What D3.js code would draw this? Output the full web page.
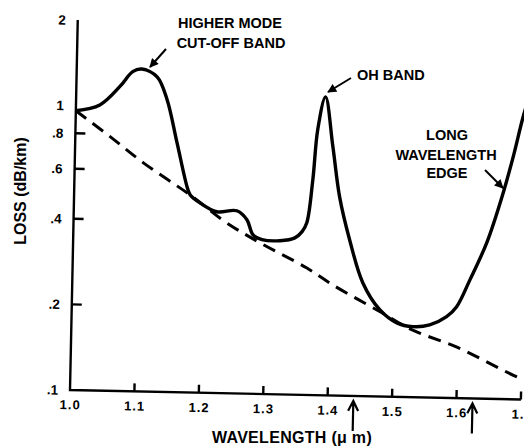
<!DOCTYPE html>
<html>
<head>
<meta charset="utf-8">
<script src="https://d3js.org/d3.v7.min.js"></script>
<style>
  html, body { margin: 0; padding: 0; background: #fff; }
  svg { display: block; }
  text { font-family: "Liberation Sans", Arial, sans-serif; font-weight: bold; fill: #000; }
</style>
</head>
<body>
<div class="content"></div>
<script>
const w = 524;
const h = 447;

// measured loss curve (wavelength in um, loss in dB/km)
const lossWavelength = [1.0, 1.037, 1.068, 1.087, 1.101, 1.125, 1.141, 1.158, 1.175, 1.18, 1.195, 1.222, 1.253, 1.269, 1.279, 1.293, 1.321, 1.344, 1.355, 1.362, 1.37, 1.376, 1.387, 1.4, 1.412, 1.429, 1.451, 1.478, 1.505, 1.53, 1.556, 1.582, 1.597, 1.617, 1.642, 1.665, 1.681, 1.695, 1.71];
const lossValue = [0.96, 1.01, 1.18, 1.33, 1.36, 1.28, 1.07, 0.754, 0.529, 0.496, 0.466, 0.434, 0.439, 0.409, 0.362, 0.349, 0.347, 0.356, 0.375, 0.403, 0.572, 0.859, 1.12, 0.75, 0.501, 0.354, 0.25, 0.202, 0.182, 0.177, 0.18, 0.193, 0.209, 0.261, 0.354, 0.523, 0.725, 1.0, 1.3];

// rayleigh scattering limit (dashed)
const limitWavelength = [1.0, 1.054, 1.106, 1.184, 1.235, 1.29, 1.363, 1.404, 1.478, 1.53, 1.599, 1.697, 1.71];
const limitValue = [0.96, 0.783, 0.638, 0.488, 0.401, 0.34, 0.28, 0.245, 0.199, 0.172, 0.151, 0.119, 0.117];

const xTicks = [1.0, 1.1, 1.2, 1.3, 1.4, 1.5, 1.6, 1.7];
const xTickLabels = ['1.0', '1.1', '1.2', '1.3', '1.4', '1.5', '1.6', '1.'];
const yTicks = [0.1, 0.2, 0.4, 0.6, 0.8, 1, 2];
const yTickLabels = ['.1', '.2', '.4', '.6', '.8', '1', '2'];
const yTickMarks = [0.2, 0.4, 0.6, 0.8];
const markedWavelengths = [1.44, 1.625];

const lossCurve = lossWavelength.map((d, i) => ({ wl: d, loss: lossValue[i] }));
const limitCurve = limitWavelength.map((d, i) => ({ wl: d, loss: limitValue[i] }));

const svg = d3.select('.content').append('svg')
	.attr('width', w)
	.attr('height', h);

svg.append('rect')
	.attr('width', w)
	.attr('height', h)
	.attr('fill', '#fff');

svg.append('defs').append('marker')
	.attr('id', 'head')
	.attr('viewBox', '0 0 10 10')
	.attr('refX', 9)
	.attr('refY', 5)
	.attr('markerUnits', 'userSpaceOnUse')
	.attr('markerWidth', 10)
	.attr('markerHeight', 9)
	.attr('orient', 'auto')
	.append('path')
	.attr('d', 'M0,0 L10,5 L0,10 Z')
	.attr('fill', '#000');

const xScale = d3.scaleLinear()
	.domain([1.0, 1.7])
	.range([70, 521]);

const yScale = d3.scaleLog()
	.domain([0.1, 2])
	.range([390, 20]);

// the original figure is printed slightly skewed
const plot = svg.append('g')
	.attr('transform', 'rotate(1.2, 70, 390)');

const line = d3.line()
	.x((d) => xScale(d.wl))
	.y((d) => yScale(d.loss))
	.curve(d3.curveCatmullRom.alpha(0.5));

plot.append('path')
	.datum(limitCurve)
	.attr('d', line)
	.attr('fill', 'none')
	.attr('stroke', '#000')
	.attr('stroke-width', 3)
	.attr('stroke-dasharray', '13,8');

plot.append('path')
	.datum(lossCurve)
	.attr('d', line)
	.attr('fill', 'none')
	.attr('stroke', '#000')
	.attr('stroke-width', 3.4)
	.attr('stroke-linejoin', 'round');

const x0 = xScale(1.0);
const y0 = yScale(0.1);

plot.append('path')
	.attr('d', 'M' + x0 + ',' + yScale(2) + 'V' + y0 + 'H' + xScale(1.7))
	.attr('fill', 'none')
	.attr('stroke', '#000')
	.attr('stroke-width', 2.4);

// inward tick marks
plot.selectAll('.xmark')
	.data(xTicks.slice(1))
	.enter()
	.append('rect')
	.attr('class', 'xmark')
	.attr('x', (d) => xScale(d) - 1.2)
	.attr('y', y0 - 8)
	.attr('width', 2.4)
	.attr('height', 8)
	.attr('fill', '#000');

plot.selectAll('.ymark')
	.data(yTickMarks)
	.enter()
	.append('rect')
	.attr('class', 'ymark')
	.attr('x', x0)
	.attr('y', (d) => yScale(d) - 1.2)
	.attr('width', 10)
	.attr('height', 2.4)
	.attr('fill', '#000');

const xAxis = d3.axisBottom(xScale)
	.tickValues(xTicks)
	.tickSize(0)
	.tickPadding(10)
	.tickFormat((d, i) => xTickLabels[i]);

plot.append('g')
	.attr('id', 'x-axis')
	.attr('transform', 'translate(0,' + y0 + ')')
	.call(xAxis)
	.call(g => g.select('.domain').remove())
	.call(g => g.selectAll('text').style('font-size', '13px').attr('letter-spacing', 1))
	.call(g => g.selectAll('.tick:last-of-type text').attr('dx', -3));

const yAxis = d3.axisLeft(yScale)
	.tickValues(yTicks)
	.tickSize(0)
	.tickPadding(12)
	.tickFormat((d, i) => yTickLabels[i]);

plot.append('g')
	.attr('id', 'y-axis')
	.attr('transform', 'translate(' + x0 + ',0)')
	.call(yAxis)
	.call(g => g.select('.domain').remove())
	.call(g => g.selectAll('text').style('font-size', '13.5px'));

// arrows under the wavelength axis
plot.selectAll('.mark-arrow')
	.data(markedWavelengths)
	.enter()
	.append('path')
	.attr('class', 'mark-arrow')
	.attr('d', (d) => {
		const x = xScale(d);
		const top = y0 + 5;
		return 'M' + x + ',' + (top + 30) + ' L' + x + ',' + top +
			' M' + (x - 5) + ',' + (top + 10) + ' L' + x + ',' + top + ' L' + (x + 5) + ',' + (top + 10);
	})
	.attr('fill', 'none')
	.attr('stroke', '#000')
	.attr('stroke-width', 2.2);

// axis titles
svg.append('text')
	.attr('x', 292)
	.attr('y', 443)
	.attr('text-anchor', 'middle')
	.style('font-size', '16px')
	.attr('letter-spacing', 0.3)
	.text('WAVELENGTH (\u03bc m)');

svg.append('text')
	.attr('transform', 'translate(26,191) rotate(-90)')
	.attr('text-anchor', 'middle')
	.style('font-size', '16px')
	.text('LOSS (dB/km)');

// annotations
const notes = svg.append('g')
	.style('font-size', '14.5px');

notes.append('text').attr('x', 230).attr('y', 28).attr('text-anchor', 'middle').text('HIGHER MODE');
notes.append('text').attr('x', 231).attr('y', 48).attr('text-anchor', 'middle').text('CUT-OFF BAND');
notes.append('text').attr('x', 357).attr('y', 80).text('OH BAND');
notes.append('text').attr('x', 447).attr('y', 140).attr('text-anchor', 'middle').text('LONG');
notes.append('text').attr('x', 446).attr('y', 160).attr('text-anchor', 'middle').text('WAVELENGTH');
notes.append('text').attr('x', 447).attr('y', 178).attr('text-anchor', 'middle').text('EDGE');

const pointers = [
	[166, 49, 150, 67],
	[351, 78, 328, 92],
	[485, 170, 503, 188]
];

svg.selectAll('.pointer')
	.data(pointers)
	.enter()
	.append('line')
	.attr('class', 'pointer')
	.attr('x1', (d) => d[0])
	.attr('y1', (d) => d[1])
	.attr('x2', (d) => d[2])
	.attr('y2', (d) => d[3])
	.attr('stroke', '#000')
	.attr('stroke-width', 2)
	.attr('marker-end', 'url(#head)');
</script>
</body>
</html>
